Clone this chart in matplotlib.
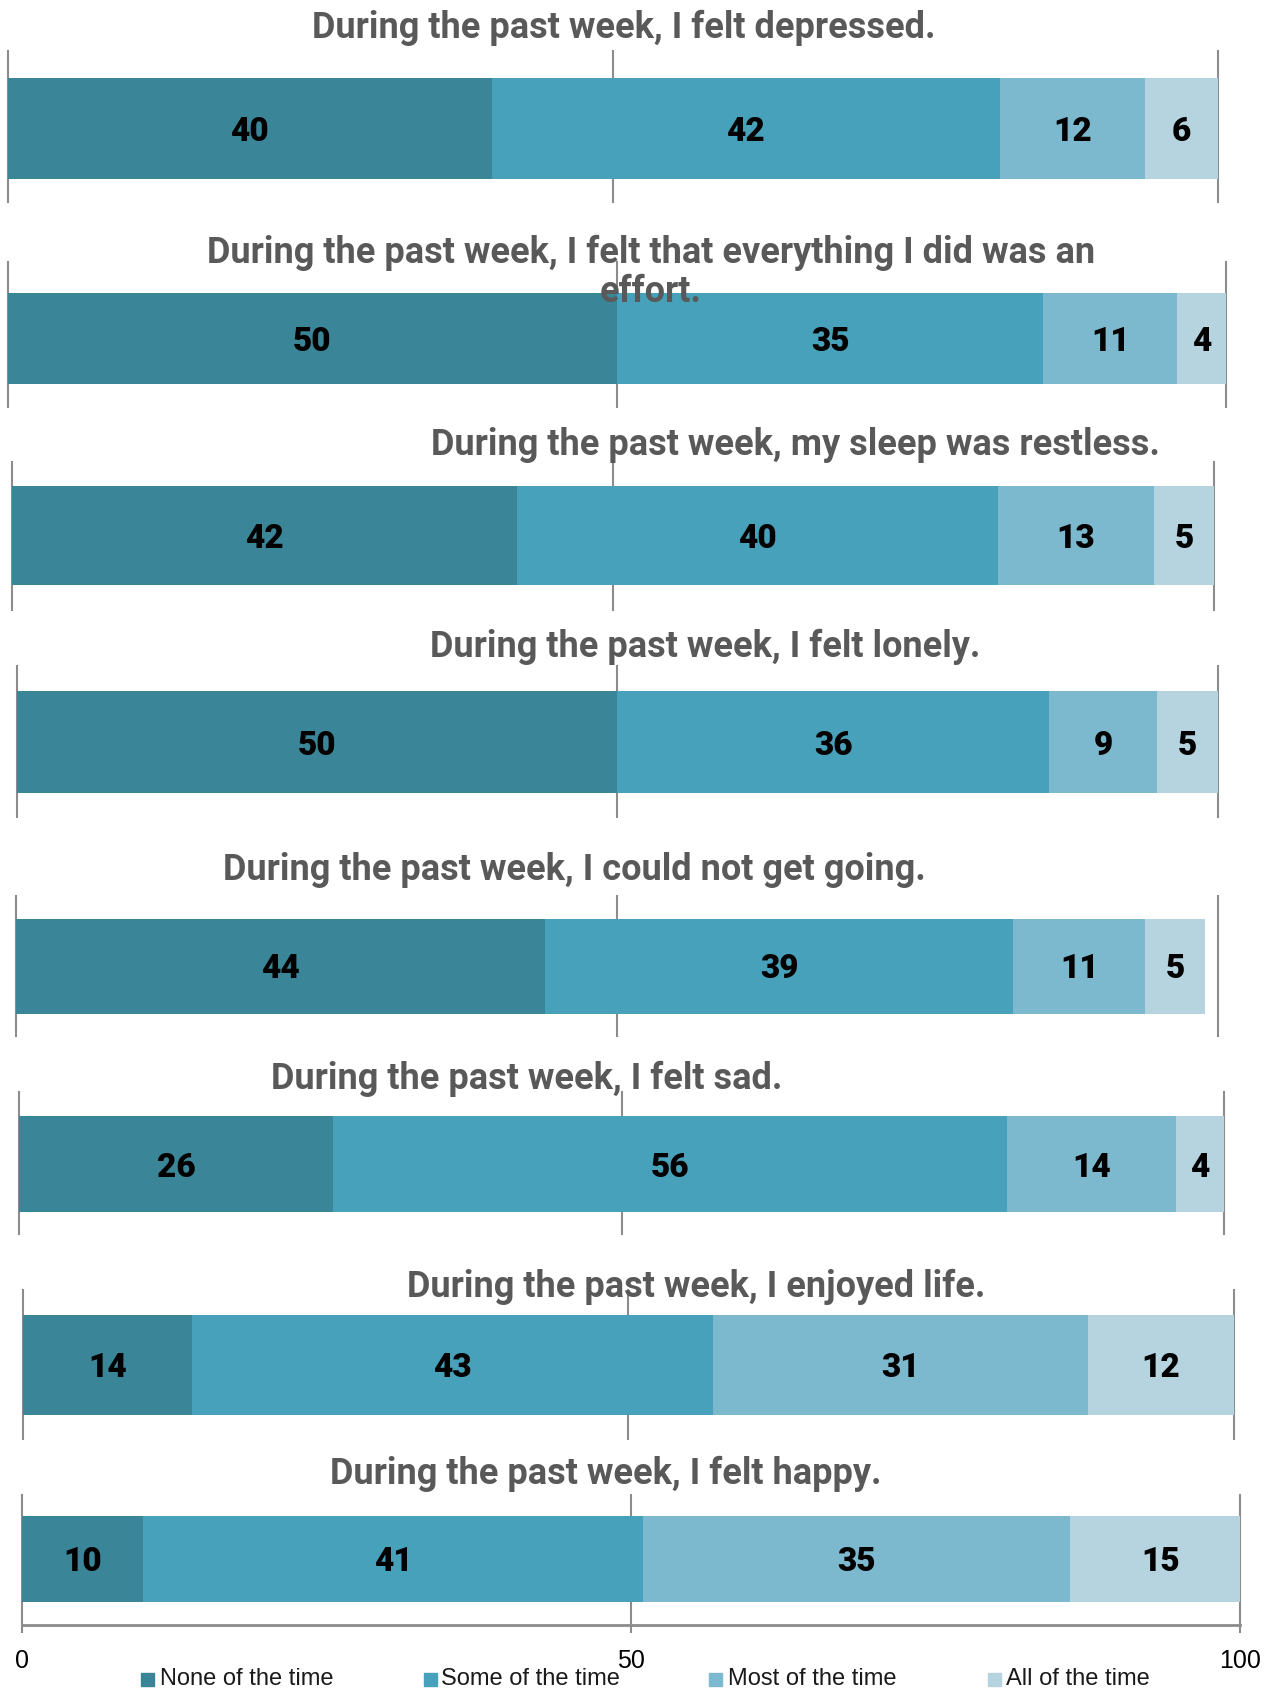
import matplotlib.pyplot as plt
from matplotlib.patches import Rectangle

# survey items, one panel each
titles = [
    "During the past week, I felt depressed.",
    "During the past week, I felt that everything I did was an\neffort.",
    "During the past week, my sleep was restless.",
    "During the past week, I felt lonely.",
    "During the past week, I could not get going.",
    "During the past week, I felt sad.",
    "During the past week, I enjoyed life.",
    "During the past week, I felt happy.",
]
categories = ["None of the time", "Some of the time", "Most of the time", "All of the time"]
none_of_time = [40, 50, 42, 50, 44, 26, 14, 10]
some_of_time = [42, 35, 40, 36, 39, 56, 43, 41]
most_of_time = [12, 11, 13, 9, 11, 14, 31, 35]
all_of_time = [6, 4, 5, 5, 5, 4, 12, 15]
x_ticks = [0, 50, 100]

colors = ["#3a8597", "#48a1ba", "#7db9ce", "#b5d4df"]
grid_color = "#8c8c8c"
title_color = "#595959"
bold_font = ["Roboto", "DejaVu Sans"]
plain_font = ["Liberation Sans", "DejaVu Sans"]

W, H = 1279, 1693

# panel boxes in pixels: left, right, grid top, grid bottom, bar top, bar bottom,
# title centre x, title centre y
panels = [
    (7.6, 1217.5, 50.7, 201.8, 77.7, 179.2, 623.8, 23.7),
    (7.6, 1226.1, 262.3, 406.9, 292.5, 384.2, 650.8, 267.0),
    (11.9, 1214.2, 461.9, 609.8, 485.7, 585.0, 795.4, 441.4),
    (17.3, 1217.5, 665.9, 817.0, 690.8, 793.3, 704.8, 643.3),
    (16.2, 1217.5, 895.8, 1036.1, 918.5, 1013.5, 574.2, 865.6),
    (19.4, 1223.9, 1092.3, 1233.6, 1116.0, 1212.1, 526.7, 1075.0),
    (22.7, 1233.6, 1289.8, 1438.7, 1314.6, 1415.0, 696.1, 1283.3),
    (21.6, 1240.1, 1494.8, 1625.0, 1515.5, 1602.0, 605.5, 1470.0),
]

fig = plt.figure(figsize=(W / 100, H / 100), dpi=100)

series = [none_of_time, some_of_time, most_of_time, all_of_time]

for i, (l, r, gt, gb, bt, bb, tx, ty) in enumerate(panels):
    ax = fig.add_axes([l / W, 1 - gb / H, (r - l) / W, (gb - gt) / H])
    ax.set_xlim(0, 100)
    ax.set_ylim(0, 1)
    centre = 1 - ((bt + bb) / 2 - gt) / (gb - gt)
    thick = (bb - bt) / (gb - gt)

    for xv in x_ticks:
        ax.axvline(xv, color=grid_color, lw=1.5, zorder=0, clip_on=False)

    left = 0
    for vals, c in zip(series, colors):
        v = vals[i]
        ax.barh(centre, v, left=left, height=thick, color=c, zorder=2)
        ax.text(left + v / 2, centre, str(v), ha="center", va="center_baseline",
                fontsize=24, fontweight="black", family=bold_font,
                color="black", zorder=3)
        left += v

    for s in ax.spines.values():
        s.set_visible(False)
    ax.set_yticks([])
    if i == len(panels) - 1:
        ax.spines["bottom"].set_visible(True)
        ax.spines["bottom"].set_color(grid_color)
        ax.spines["bottom"].set_linewidth(2)
        ax.set_xticks(x_ticks)
        ax.tick_params(axis="x", length=6, width=1.5, color=grid_color,
                       pad=11, labelsize=18)
        for lab in ax.get_xticklabels():
            lab.set_family(plain_font)
    else:
        ax.set_xticks([])

    fig.text(tx / W, 1 - ty / H, titles[i], ha="center", va="center_baseline",
             fontsize=26, fontweight="bold", family=bold_font,
             color=title_color, linespacing=1.1)

# legend along the bottom edge
sq_x = [141.4, 424.2, 709.1, 987.6]
txt_x = [159.7, 441.4, 728.5, 1005.9]
ly = 1679.4
for name, c, sx, tx in zip(categories, colors, sq_x, txt_x):
    fig.patches.append(Rectangle((sx / W, 1 - (ly + 6.5) / H), 13 / W, 13 / H,
                                 transform=fig.transFigure, color=c))
    fig.text(tx / W, 1 - ly / H, name, ha="left", va="center",
             fontsize=17, family=plain_font, color="#1a1a1a")

fig.savefig("out.png", dpi=100)
